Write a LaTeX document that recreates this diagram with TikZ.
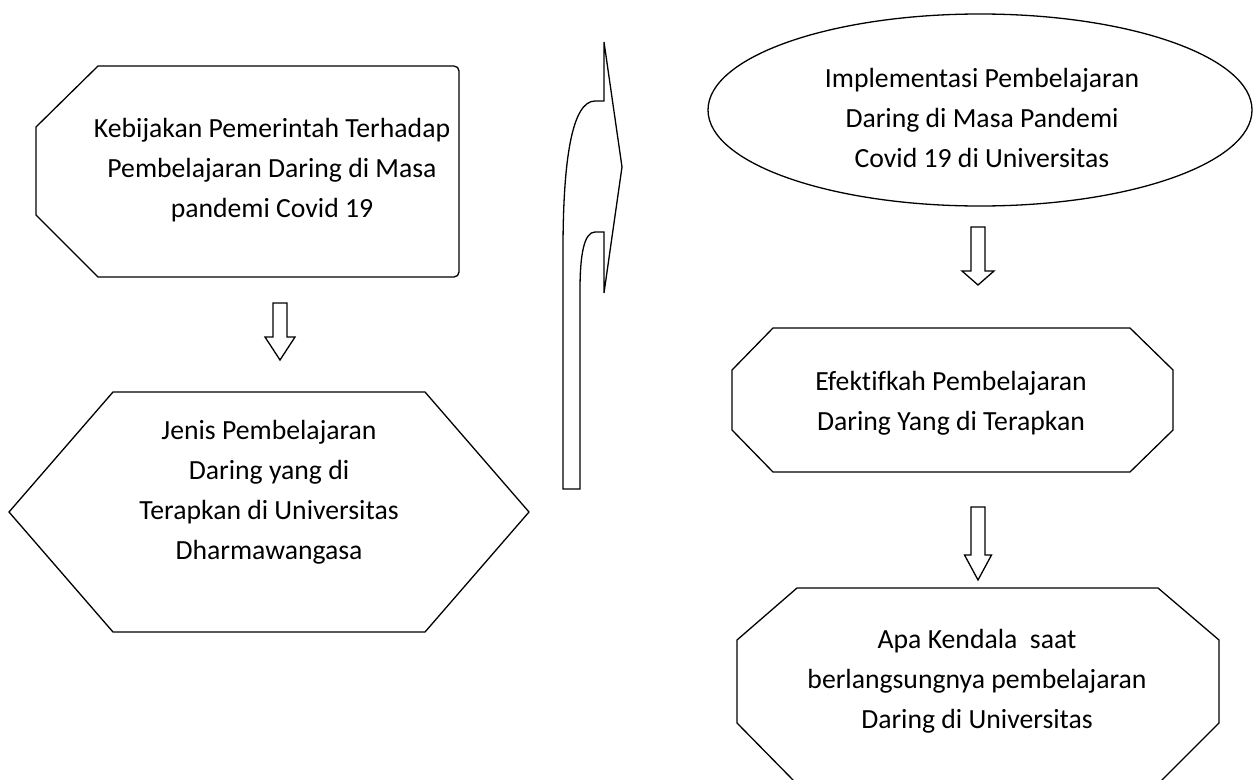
\documentclass[tikz,border=0pt]{standalone}
\usepackage{fontspec}
\setmainfont{Carlito}[Ligatures={NoCommon}]
% hollow block arrow pointing down: centre x, shaft top, head top, tip, shaft half width, head half width
\newcommand\hollowdown[6]{%
  \draw[outline] (#1-#5,#2) -- (#1+#5,#2) -- (#1+#5,#3) -- (#1+#6,#3)
    -- (#1,#4) -- (#1-#6,#3) -- (#1-#5,#3) -- cycle;}
\begin{document}
\begin{tikzpicture}[x=1pt,y=-1pt,
  outline/.style={draw=black,line width=1.3pt,line join=miter},
  label/.style={align=center,inner sep=0pt,font=\fontsize{27.7}{40}\selectfont},
]
\useasboundingbox (0,0) rectangle (1257,779);

% --- left column ---
\draw[outline] (36,127) -- (98,66) -- (454,66) to[out=0,in=90] (459,71)
  -- (459,272) to[out=-90,in=0] (454,277) -- (98,277) -- (36,215) -- cycle;
\node[label] (kebijakan) at (272,170)
  {Kebijakan Pemerintah Terhadap\\Pembelajaran Daring di Masa\\pandemi Covid 19};

\hollowdown{280}{303}{337}{360}{7}{15}

\draw[outline] (9,512) -- (113,392) -- (425,392) -- (529,512)
  -- (425,632) -- (113,632) -- cycle;
\node[label] (jenis) at (269,492)
  {Jenis Pembelajaran\\Daring yang di\\Terapkan di Universitas\\Dharmawangasa};

% --- curved block arrow between the columns ---
\draw[outline] (563,489) -- (563,250) .. controls (563,160) and (572,101) .. (595,101)
  -- (604,101) -- (604,42) -- (622,167) -- (604,293) -- (604,232) -- (595,232)
  .. controls (584,232) and (580,255) .. (580,290) -- (580,489) -- cycle;

% --- right column ---
\draw[outline] (980,110) ellipse [x radius=272, y radius=96];
\node[label] (implementasi) at (982,118)
  {Implementasi Pembelajaran\\Daring di Masa Pandemi\\Covid 19 di Universitas};

\hollowdown{978}{227}{271}{285}{7}{16}

\draw[outline] (732,370) -- (773,328) -- (1130,328) -- (1173,370) -- (1173,430)
  -- (1130,472) -- (773,472) -- (732,430) -- cycle;
\node[label] (efektif) at (951,403)
  {Efektifkah Pembelajaran\\Daring Yang di Terapkan};

\hollowdown{978}{507}{555}{580}{7}{13.5}

\draw[outline] (737,640) -- (797,588) -- (1158,588) -- (1219,640) -- (1219,723)
  -- (1160,782) -- (795,782) -- (737,723) -- cycle;
\node[label] (kendala) at (977,681)
  {Apa Kendala\ \ saat\\berlangsungnya pembelajaran\\Daring di Universitas};
\end{tikzpicture}
\end{document}
